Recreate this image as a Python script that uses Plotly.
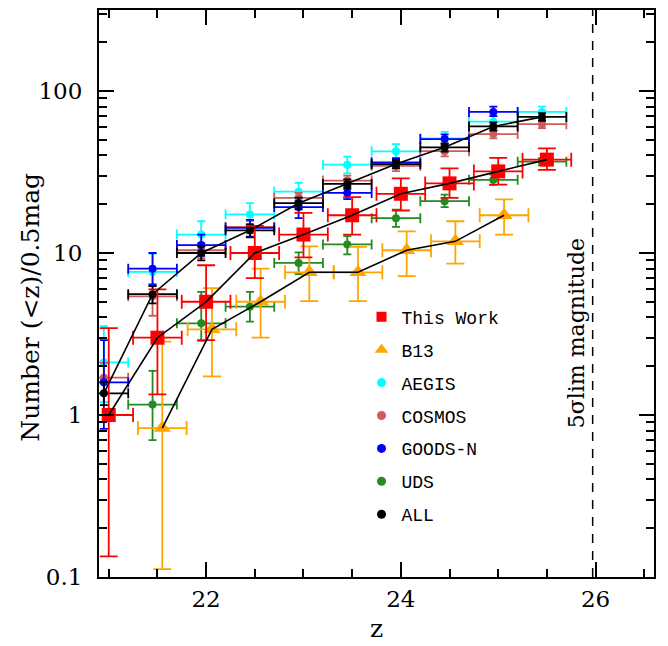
import plotly.graph_objects as go
import numpy as np

# ---------------- data ----------------
tw_z = [21.0, 21.5, 22.0, 22.5, 23.0, 23.5, 24.0, 24.5, 25.0, 25.5]
tw_n = [1.0, 3.0, 5.0, 10.0, 13.0, 17.1, 23.2, 26.9, 31.9, 37.7]
tw_hi = [3.44, 5.96, 8.4, 14.7, 17.7, 22.1, 28.9, 33.3, 38.6, 44.2]
tw_lo = [0.134, 1.34, 2.9, 7.0, 9.4, 13.0, 18.3, 21.9, 26.4, 32.6]

b13_z = [21.55, 22.06, 22.56, 23.06, 23.56, 24.06, 24.56, 25.06]
b13_n = [0.83, 3.38, 5.0, 7.6, 7.6, 10.4, 11.8, 17.1]
b13_hi = [2.84, 6.07, 8.0, 11.0, 10.9, 13.6, 15.7, 21.4]
b13_lo = [0.112, 1.73, 3.0, 5.05, 5.05, 7.2, 8.6, 13.0]

aeg_z = [20.95, 21.45, 21.95, 22.45, 22.95, 23.45, 23.95, 24.45, 24.95, 25.45]
aeg_n = [2.11, 7.64, 13.0, 17.3, 23.9, 35.1, 42.4, 50.9, 64.7, 74.3]
aeg_hi = [3.54, 9.9, 15.7, 20.3, 27.1, 39.3, 47.0, 56.0, 70.0, 80.1]
aeg_lo = [1.2, 6.3, 11.0, 15.0, 21.0, 31.0, 38.0, 46.0, 59.0, 68.0]

cos_z = [20.95, 21.45, 21.95, 22.45, 22.95, 23.45, 23.95, 24.45, 24.95, 25.45]
cos_n = [1.7, 5.4, 10.4, 14.5, 21.9, 28.0, 34.5, 42.5, 54.2, 62.4]
cos_hi = [2.1, 6.3, 11.5, 15.8, 23.5, 30.0, 37.0, 45.5, 57.5, 66.0]
cos_lo = [1.35, 4.1, 9.3, 13.2, 20.3, 26.0, 32.0, 39.5, 51.0, 59.0]

gn_z = [20.95, 21.45, 21.95, 22.45, 22.95, 23.45, 23.95, 24.45, 24.95]
gn_n = [1.59, 8.0, 11.2, 14.3, 19.2, 23.5, 36.3, 50.5, 74.3]
gn_hi = [2.9, 10.0, 13.0, 16.0, 20.8, 25.5, 38.5, 54.0, 80.0]
gn_lo = [0.82, 6.4, 9.6, 12.6, 16.4, 21.5, 34.0, 47.0, 70.0]

uds_z = [21.45, 21.95, 22.45, 22.95, 23.45, 23.95, 24.45, 24.95, 25.45]
uds_n = [1.16, 3.68, 4.66, 8.68, 11.3, 16.4, 20.9, 28.3, 36.6]
uds_hi = [1.87, 5.75, 5.75, 10.1, 12.7, 18.5, 22.9, 30.5, 38.5]
uds_lo = [0.70, 2.87, 3.77, 7.4, 9.8, 14.5, 19.2, 26.3, 34.8]

all_z = [20.95, 21.45, 21.95, 22.45, 22.95, 23.45, 23.95, 24.45, 24.95, 25.45]
all_n = [1.36, 5.57, 10.0, 13.8, 20.3, 26.7, 35.4, 44.9, 60.4, 69.2]
all_hi = [1.6, 6.24, 11.0, 15.0, 22.0, 28.5, 37.5, 47.5, 64.0, 73.0]
all_lo = [1.15, 4.89, 9.0, 12.5, 18.6, 24.9, 33.3, 42.3, 57.0, 65.5]

bin_half = 0.25
lim_mag = 25.97

x_ticks = [22, 24, 26]
y_ticks = [0.1, 1, 10, 100]
y_ticktext = ["0.1", "1", "10", "100"]

# ---------------- figure ----------------
fig = go.Figure()

SERIF = "DejaVu Serif"
MONO = "Liberation Mono"


def add_series(z, n, hi, lo, color, symbol, size, capy, capx, thick):
    n_a = np.array(n)
    fig.add_trace(go.Scatter(
        x=z, y=n, mode="markers", showlegend=False,
        marker=dict(color=color, symbol=symbol, size=size, line=dict(width=0)),
        error_y=dict(type="data", symmetric=False,
                     array=list(np.array(hi) - n_a),
                     arrayminus=list(n_a - np.array(lo)),
                     color=color, thickness=thick, width=capy),
        error_x=dict(type="constant", value=bin_half, color=color,
                     thickness=thick, width=capx),
        cliponaxis=True,
    ))


add_series(aeg_z, aeg_n, aeg_hi, aeg_lo, "#00FFFF", "circle", 8, 4, 5, 1.8)
add_series(cos_z, cos_n, cos_hi, cos_lo, "#CD5C5C", "circle", 8, 4, 5, 1.8)
add_series(gn_z, gn_n, gn_hi, gn_lo, "#0000FF", "circle", 8, 4, 5, 1.8)
add_series(uds_z, uds_n, uds_hi, uds_lo, "#228B22", "circle", 8, 4, 5, 1.8)
add_series(all_z, all_n, all_hi, all_lo, "#000000", "circle", 8, 4, 5, 1.8)
add_series(b13_z, b13_n, b13_hi, b13_lo, "#FFA500", "triangle-up", 15, 9, 7, 1.8)
add_series(tw_z, tw_n, tw_hi, tw_lo, "#FF0000", "square", 14, 9, 7, 1.8)

for z, n in [(all_z, all_n), (tw_z, tw_n), (b13_z, b13_n)]:
    fig.add_trace(go.Scatter(x=z, y=n, mode="lines", showlegend=False,
                             line=dict(color="black", width=1.6)))

# legend-only entries
legend_items = [
    ("This Work", "#FF0000", "square", 10),
    ("B13", "#FFA500", "triangle-up", 12),
    ("AEGIS", "#00FFFF", "circle", 9),
    ("COSMOS", "#CD5C5C", "circle", 9),
    ("GOODS-N", "#0000FF", "circle", 9),
    ("UDS", "#228B22", "circle", 9),
    ("ALL", "#000000", "circle", 9),
]
for i, (name, col, sym, sz) in enumerate(legend_items):
    fig.add_trace(go.Scatter(x=[None], y=[None], mode="markers", name=name,
                             legendgroup=f"g{i}",
                             marker=dict(color=col, symbol=sym, size=sz)))

fig.add_vline(x=lim_mag, line=dict(color="black", width=1.5, dash="9px,8px"))

fig.add_annotation(x=25.80, y=np.log10(3.2), xref="x", yref="y",
                   text="5σlim magnitude", textangle=-90, showarrow=False,
                   font=dict(family=SERIF, size=22, color="black"),
                   xanchor="center", yanchor="middle")

fig.add_annotation(x=-0.125, y=0.476, xref="paper", yref="paper",
                   text="Number (<z)/0.5mag", textangle=-90, showarrow=False,
                   font=dict(family=SERIF, size=25, color="black"),
                   xanchor="center", yanchor="middle")
fig.add_annotation(x=0.5, y=-0.1207, xref="paper", yref="paper",
                   text="z", showarrow=False,
                   font=dict(family=SERIF, size=25, color="black"),
                   xanchor="center", yanchor="bottom")

minor_y = [m * 10.0 ** e for e in range(-1, 3) for m in range(2, 10)]

fig.update_layout(
    width=668, height=646,
    margin=dict(l=99, r=14, t=8, b=69),
    paper_bgcolor="white", plot_bgcolor="white",
    showlegend=True,
    legend=dict(x=0.473, y=0.491, xanchor="left", yanchor="top",
                font=dict(family=MONO, size=18, color="black"),
                bgcolor="rgba(0,0,0,0)", tracegroupgap=6.5,
                itemsizing="trace"),
    xaxis=dict(range=[20.9, 26.6], tickvals=x_ticks,
               ticks="inside", ticklen=15, tickwidth=1.5, tickcolor="black",
               minor=dict(dtick=0.5, tick0=21, ticks="inside", ticklen=8,
                          tickwidth=1.5, tickcolor="black"),
               showline=True, linewidth=2, linecolor="black", mirror="allticks",
               showgrid=False, zeroline=False,
               tickfont=dict(family=SERIF, size=23, color="black"),
               ticklabelstandoff=0),
    yaxis=dict(type="log", range=[-1, 2.5], tickvals=y_ticks, ticktext=y_ticktext,
               ticks="inside", ticklen=15, tickwidth=1.5, tickcolor="black",
               minor=dict(tickvals=minor_y, ticks="inside", ticklen=8,
                          tickwidth=1.5, tickcolor="black"),
               showline=True, linewidth=2, linecolor="black", mirror="allticks",
               showgrid=False, zeroline=False,
               tickfont=dict(family=SERIF, size=23, color="black"),
               ticklabelstandoff=10),
)

fig.write_html("out.html")
